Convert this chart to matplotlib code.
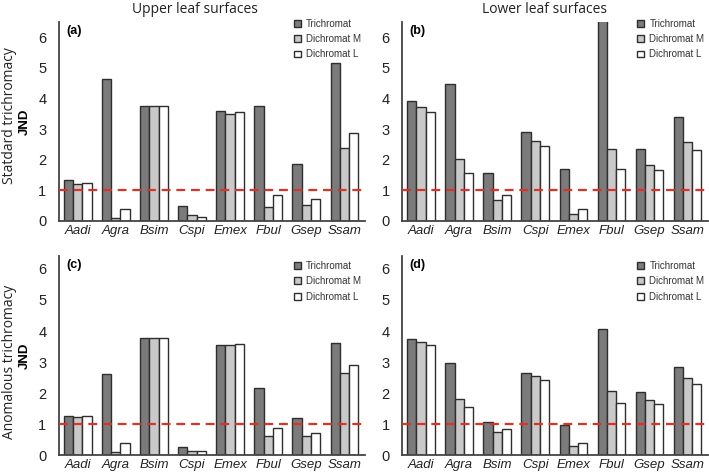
import numpy as np
import matplotlib
matplotlib.use("Agg")
import matplotlib.pyplot as plt

species = ["Aadi", "Agra", "Bsim", "Cspi", "Emex", "Fbul", "Gsep", "Ssam"]
series_names = ["Trichromat", "Dichromat M", "Dichromat L"]

# (a) standard trichromacy, upper leaf surfaces
a_tri = [1.32, 4.63, 3.75, 0.48, 3.59, 3.75, 1.85, 5.17]
a_dim = [1.20, 0.11, 3.75, 0.20, 3.48, 0.45, 0.51, 2.37]
a_dil = [1.24, 0.39, 3.76, 0.13, 3.54, 0.86, 0.71, 2.88]

# (b) standard trichromacy, lower leaf surfaces
b_tri = [3.90, 4.48, 1.57, 2.90, 1.69, 6.90, 2.36, 3.38]
b_dim = [3.72, 2.02, 0.69, 2.60, 0.22, 2.36, 1.84, 2.56]
b_dil = [3.57, 1.56, 0.85, 2.44, 0.40, 1.68, 1.66, 2.30]

# (c) anomalous trichromacy, upper leaf surfaces
c_tri = [1.26, 2.61, 3.78, 0.27, 3.56, 2.16, 1.18, 3.61]
c_dim = [1.23, 0.11, 3.78, 0.14, 3.56, 0.63, 0.60, 2.64]
c_dil = [1.25, 0.39, 3.76, 0.12, 3.58, 0.86, 0.71, 2.89]

# (d) anomalous trichromacy, lower leaf surfaces
d_tri = [3.75, 2.98, 1.07, 2.66, 0.96, 4.08, 2.02, 2.84]
d_dim = [3.66, 1.82, 0.74, 2.54, 0.29, 2.08, 1.77, 2.47]
d_dil = [3.55, 1.54, 0.84, 2.42, 0.40, 1.68, 1.65, 2.28]

yticks = [0, 1, 2, 3, 4, 5, 6]
fills = ["#7b7b7b", "#c9c9c9", "#ffffff"]
edge = "#2e2e2e"
axis_col = "#444444"
arial = ["Liberation Sans Narrow", "Liberation Sans"]

fig = plt.figure(figsize=(7.09, 4.74), dpi=100)

left = [0.083, 0.567]
bottom = [0.534, 0.040]
w, h = 0.432, 0.420


def panel(ax, tri, dim, dil, letter, ymax, leg_y):
    x = np.arange(len(species))
    bw = 0.24
    for k, (vals, fc, name) in enumerate(zip([tri, dim, dil], fills, series_names)):
        ax.bar(x + (k - 1) * bw, vals, width=bw, color=fc, edgecolor=edge,
               linewidth=1.0, label=name, zorder=2)
    ax.axhline(1, color="#d8342a", lw=1.6, ls=(0, (4, 2.6)), zorder=3)
    ax.set_xlim(-0.5, 7.55)
    ax.set_ylim(0, ymax)
    ax.set_yticks(yticks)
    ax.set_xticks(x)
    ax.set_xticklabels(species, fontstyle="italic", fontsize=9.5,
                       family=arial, color="#222222")
    for t in ax.get_yticklabels():
        t.set_fontsize(10.5)
        t.set_family(arial)
        t.set_color("#222222")
    ax.tick_params(length=0, pad=3)
    ax.tick_params(axis="y", pad=9)
    for s in ["top", "right"]:
        ax.spines[s].set_visible(False)
    for s in ["left", "bottom"]:
        ax.spines[s].set_color(axis_col)
        ax.spines[s].set_linewidth(1.3)
    ax.text(0.025, 0.985, letter, transform=ax.transAxes, fontsize=9,
            fontweight="bold", family=arial, va="top", ha="left")
    leg = ax.legend(loc="upper right", bbox_to_anchor=(1.0, leg_y), frameon=False,
                    handlelength=0.7, handleheight=0.7,
                    handletextpad=0.55, labelspacing=0.55, borderaxespad=0,
                    prop={"family": "Liberation Sans", "size": 7})
    for t in leg.get_texts():
        t.set_color("#333333")


axes = []
for r in range(2):
    for c in range(2):
        axes.append(fig.add_axes([left[c], bottom[r], w, h]))

panel(axes[0], a_tri, a_dim, a_dil, "(a)", 6.5, 1.035)
panel(axes[1], b_tri, b_dim, b_dil, "(b)", 6.5, 1.035)
panel(axes[2], c_tri, c_dim, c_dil, "(c)", 6.42, 0.995)
panel(axes[3], d_tri, d_dim, d_dil, "(d)", 6.42, 0.995)

for ax in [axes[0], axes[2]]:
    ax.set_ylabel("JND", fontsize=9.5, fontweight="bold", family=arial)
    ax.yaxis.set_label_coords(-0.09, 0.5)

fig.text(0.275, 0.995, "Upper leaf surfaces", ha="center", va="top",
         fontsize=10, family="Open Sans", color="#222222")
fig.text(0.768, 0.995, "Lower leaf surfaces", ha="center", va="top",
         fontsize=10, family="Open Sans", color="#222222")
fig.text(0.014, 0.757, "Statdard trichromacy", rotation=90, ha="center",
         va="center", fontsize=10, family="Open Sans", color="#222222")
fig.text(0.014, 0.236, "Anomalous trichromacy", rotation=90, ha="center",
         va="center", fontsize=10, family="Open Sans", color="#222222")

fig.savefig("out.png", dpi=100)
